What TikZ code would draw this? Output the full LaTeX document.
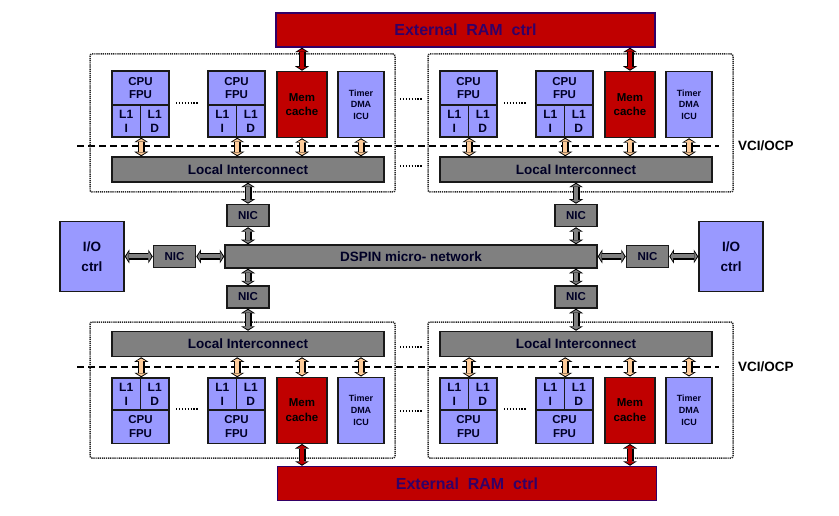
\documentclass[tikz,border=0pt]{standalone}
\usepackage{fontspec}
\setmainfont{Liberation Sans}
\usetikzlibrary{positioning, arrows.meta}
\definecolor{cpublue}{HTML}{9999FF}
\definecolor{memred}{HTML}{C00000}
\definecolor{busgray}{HTML}{808080}
\definecolor{linkbeige}{HTML}{FFCC99}
\definecolor{ramtext}{HTML}{330066}
\newcommand{\outertip}{{Triangle[length=4.5pt,width=14pt,line width=0pt]}-{Triangle[length=4.5pt,width=14pt,line width=0pt]}}
\newcommand{\innertip}{{Triangle[length=2.5pt,width=9pt,line width=0pt]}-{Triangle[length=2.5pt,width=9pt,line width=0pt]}}
\newcommand{\fatarrow}[3]{%
  \draw[line width=7pt, \outertip] #2 -- #3;
  \draw[line width=4pt, #1, \innertip, shorten <=1.3pt, shorten >=1.3pt] #2 -- #3;}

\begin{document}
\begin{tikzpicture}[x=1pt, y=-1pt,
  unit/.style={draw=black!90, line width=1.5pt, align=center, inner sep=0pt, text=black!85!blue},
  cpubox/.style={unit, fill=cpublue, font=\fontsize{11.5}{13.5}\selectfont\bfseries},
  l1box/.style={unit, fill=cpublue, minimum width=28.5pt, minimum height=32pt, font=\fontsize{12}{14}\selectfont\bfseries},
  membox/.style={unit, fill=memred, text=black, minimum width=50pt, minimum height=66pt, font=\fontsize{11.5}{14.5}\selectfont\bfseries},
  timerbox/.style={unit, fill=cpublue, minimum width=46pt, minimum height=66pt, font=\fontsize{9}{11.7}\selectfont\bfseries},
  grayblock/.style={unit, fill=busgray, font=\fontsize{13.5}{15}\selectfont\bfseries},
  nicbox/.style={unit, fill=busgray, minimum width=42pt, minimum height=22pt, font=\fontsize{11.5}{13}\selectfont\bfseries},
  iobox/.style={unit, fill=cpublue, minimum width=64pt, minimum height=70pt, font=\fontsize{13.5}{20}\selectfont\bfseries},
  rambox/.style={unit, draw=ramtext, fill=memred, text=ramtext, minimum width=379pt, minimum height=34pt, font=\fontsize{16}{18}\selectfont\bfseries},
  vcilabel/.style={anchor=west, inner sep=0pt, font=\fontsize{13.5}{15}\selectfont\bfseries},
  frame/.style={draw=black!85, line width=1.5pt, dash pattern=on 1.2pt off 0.9pt, rounded corners=2pt},
  vciline/.style={line width=1.4pt, dash pattern=on 7pt off 4pt},
  dotline/.style={line width=1.5pt, dash pattern=on 1.3pt off 1.6pt}]
\useasboundingbox (0,0) rectangle (839,516);

% memories and network
\node[rambox] (ramtop) at (465.5,30) {External\ \ RAM\ \ ctrl};
\node[rambox] (rambot) at (467,483.5) {External\ \ RAM\ \ ctrl};
\node[grayblock, minimum width=372pt, minimum height=23pt] (net) at (411,256.5) {DSPIN micro- network};
\node[nicbox, left=28pt of net] (nicl) {NIC};
\node[iobox, left=28pt of nicl] (iol) {I/O\\ctrl};
\node[nicbox, right=28pt of net] (nicr) {NIC};
\node[iobox, right=29pt of nicr] (ior) {I/O\\ctrl};
\fatarrow{busgray}{(iol.east |- nicl)}{(nicl.west)}
\fatarrow{busgray}{(nicl)}{(net)}
\fatarrow{busgray}{(net)}{(nicr)}
\fatarrow{busgray}{(nicr.east)}{(nicr.east -| ior.west)}

% VCI/OCP boundaries
\node[vcilabel] (vcitop) at (738,146) {VCI/OCP};
\node[vcilabel] (vcibot) at (738,367) {VCI/OCP};
\draw[vciline] (77,146) -- ([xshift=-19pt]vcitop.west);
\draw[vciline] (77,367) -- ([xshift=-19pt]vcibot.west);

% dots between clusters
\draw[dotline] (400,99) -- (423,99);
\draw[dotline] (400,166) -- (423,166);
\draw[dotline] (400,347) -- (423,347);
\draw[dotline] (400,411) -- (423,411);

\foreach \c/\dx/\bx/\ya/\yb/\yloc/\ua/\la/\gap/\ram/\bt/\bb in
  {tl/0/90/88/121/169.5/south/north/21/ramtop/54/192,
   tr/328/428/88/121/169.5/south/north/21/ramtop/54/192,
   bl/0/90/426.5/394/344/north/south/-22/rambot/322/458,
   br/328/428/426.5/394/344/north/south/-22/rambot/322/458}
{
  \draw[frame] (\bx,\bt) rectangle ({\bx+305},\bb);
  \node[cpubox, minimum width=57pt, minimum height=34pt] (cpua\c) at ({140.5+\dx},\ya) {CPU\\FPU};
  \node[l1box] (l1ia\c) at ({126.25+\dx},\yb) {L1\\I};
  \node[l1box] (l1da\c) at ({154.75+\dx},\yb) {L1\\D};
  \node[cpubox, minimum width=57pt, minimum height=34pt] (cpub\c) at ({236.5+\dx},\ya) {CPU\\FPU};
  \node[l1box] (l1ib\c) at ({222.25+\dx},\yb) {L1\\I};
  \node[l1box] (l1db\c) at ({250.75+\dx},\yb) {L1\\D};
  \node[membox] (mem\c) at ({302+\dx},{(\ya+\yb)/2}) {Mem\\cache};
  \node[timerbox] (timer\c) at ({361+\dx},{(\ya+\yb)/2}) {Timer\\DMA\\ICU};
  \node[grayblock, minimum width=272pt, minimum height=25pt] (loc\c) at ({248+\dx},\yloc) {Local Interconnect};
  \node[nicbox, anchor=\la] (nic\c) at ([shift={(0,\gap)}]loc\c.\ua) {NIC};
  \draw[dotline] ({176+\dx},{(\ya+\yb)/2-1.5}) -- ++(22,0);
  \fatarrow{linkbeige}{(l1ia\c.east |- l1ia\c.\ua)}{(l1ia\c.east |- loc\c.\la)}
  \fatarrow{linkbeige}{(l1ib\c.east |- l1ib\c.\ua)}{(l1ib\c.east |- loc\c.\la)}
  \fatarrow{linkbeige}{(mem\c.\ua)}{(mem\c.\ua |- loc\c.\la)}
  \fatarrow{linkbeige}{(timer\c.\ua)}{(timer\c.\ua |- loc\c.\la)}
  \fatarrow{memred}{(mem\c.\la)}{(mem\c.\la |- \ram.\ua)}
  \fatarrow{busgray}{(loc\c.\ua -| nic\c)}{(nic\c.\la)}
  \fatarrow{busgray}{(nic\c.\ua)}{(nic\c.\ua |- net.\la)}
}
\end{tikzpicture}
\end{document}
